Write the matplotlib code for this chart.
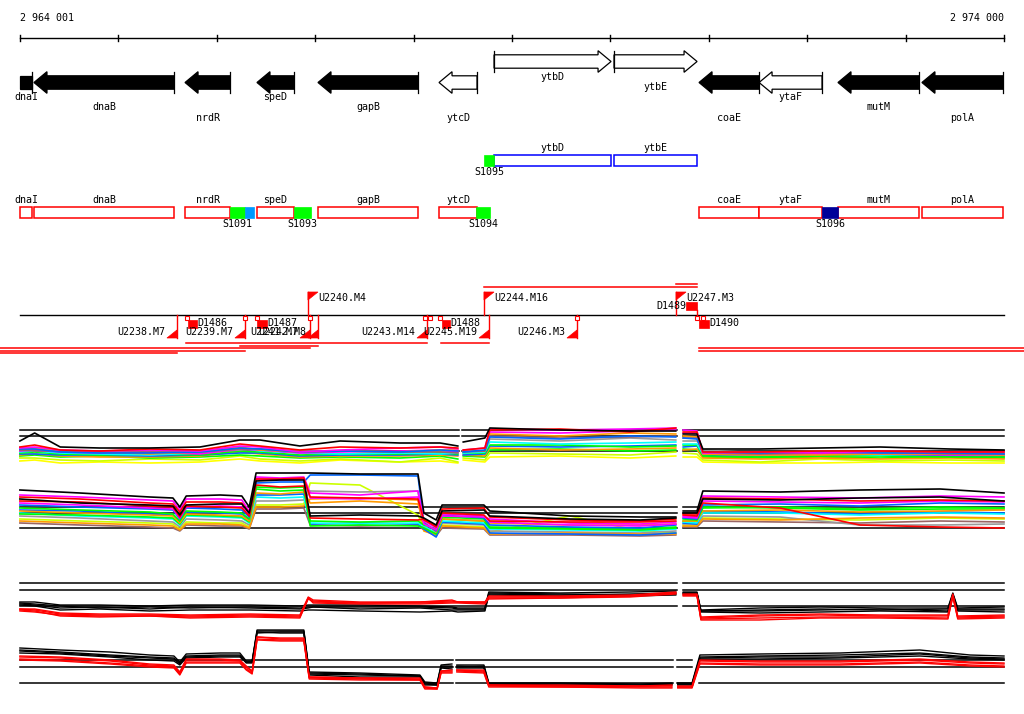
import numpy as np
import matplotlib
matplotlib.use("Agg")
import matplotlib.pyplot as plt
from matplotlib.patches import Polygon, Rectangle

W, H = 1024, 714
START, END = 2964001, 2974000
BPPX = (END - START) / 984.0
X0, X1 = START - 20 * BPPX, END + 20 * BPPX

# genes (top track)
gene_names = ["dnaI", "dnaB", "nrdR", "speD", "gapB", "ytcD", "ytbD", "ytbE", "coaE", "ytaF", "mutM", "polA"]
gene_start = [2964001, 2964143, 2965678, 2966409, 2967029, 2968259, 2968818, 2970037, 2970901, 2971511, 2972313, 2973166]
gene_end = [2964123, 2965566, 2966135, 2966785, 2968045, 2968645, 2970007, 2970881, 2971511, 2972151, 2973136, 2973990]
gene_strand = [-1, -1, -1, -1, -1, -1, 1, 1, -1, -1, -1, -1]
gene_filled = [1, 1, 1, 1, 1, 0, 0, 0, 1, 0, 1, 1]
gene_row = [0, 1, 2, 0, 1, 2, 0, 1, 2, 0, 1, 2]

# spots on the gene boxes
spot_names = ["S1095", "S1091", "", "S1093", "S1094", "S1096"]
spot_start = [2968716, 2966135, 2966287, 2966785, 2968635, 2972151]
spot_end = [2968818, 2966287, 2966378, 2966958, 2968777, 2972313]
spot_strand = [1, -1, -1, -1, -1, -1]
spot_color = ["#00ff00", "#00ff00", "#0099ff", "#00ff00", "#00ff00", "#000099"]

# transcription up-shifts (flags) and down-shifts
up_names = ["U2238.M7", "U2239.M7", "U2240.M4", "U2241.M7", "U2242.M8", "U2243.M14",
            "U2244.M16", "U2245.M19", "U2246.M3", "U2247.M3"]
up_pos = [2965596, 2966287, 2966927, 2966948, 2967029, 2968137, 2968716, 2968767, 2969661, 2970667]
up_strand = [-1, -1, 1, -1, -1, -1, 1, -1, -1, 1]
down_names = ["D1486", "D1487", "D1488", "D1489", "D1490"]
down_start = [2965708, 2966409, 2968289, 2970769, 2970901]
down_end = [2965800, 2966511, 2968370, 2970881, 2971003]
down_strand = [-1, -1, -1, 1, -1]
marker_pos = [2965698, 2966287, 2966409, 2966948, 2968117, 2968168, 2968269, 2969661, 2970881, 2970941]
# transcripts: start, end (None = beyond view), level
tr_start = [2968716, 2970667, 2965690, 2966235, 2968280, None, None, None, 2970901, 2970901]
tr_end = [2970881, 2970881, 2968137, 2967029, 2968767, 2966948, 2966287, 2965596, None, None]
tr_level = [287, 284, 343, 346, 343, 348, 351, 353, 348, 351]

# expression panel 1, top block
p1a_x = [2964000, 2964150, 2964410, 2964810, 2965320, 2965830, 2966235, 2966440, 2966845, 2967255,
         2967860, 2968270, 2968450, 2968505, 2968725, 2968775, 2969490, 2970200, 2970665, 2970740,
         2970880, 2970940, 2971520, 2972130, 2972740, 2973450, 2974000]
p1a_gaps = [(2968460, 2968495), (2970675, 2970735)]
p1a_black = [-5, 3, -11, -12, -12, -11, -4, -4, -10, -5, -7, -7, -10, -6, -2, 8, 6, 5, 5, 2, 2, -13, -13, -12, -11, -13, -14]
p1a_red = [-11, -9, -14, -15, -13, -14, -8, -10, -14, -11, -12, -11, -12, -14, -12, 6, 7, 4, 8, 4, 4, -16, -16, -15, -15, -16, -16]
p1a_magenta = [-12, -11, -14, -15, -14, -15, -10, -11, -16, -14, -12, -11, -13, -14, -12, 7, 6, 7, 8, 6, 5, -17, -16, -17, -15, -16, -16]
p1a_magenta2 = [-15, -14, -16, -17, -16, -18, -13, -14, -17, -16, -15, -14, -16, -15, -15, 4, 3, 5, 6, 3, 3, -18, -19, -18, -18, -19, -19]
p1a_brown = [-14, -15, -15, -16, -16, -16, -13, -13, -16, -15, -16, -16, -17, -16, -15, 0, -2, -1, 0, -2, -2, -17, -18, -17, -16, -18, -18]
p1a_orange = [-13, -12, -15, -16, -18, -16, -11, -14, -16, -15, -16, -14, -14, -15, -15, 2, 0, 3, 2, 0, -1, -18, -19, -19, -18, -18, -19]
p1a_orange2 = [-19, -18, -20, -21, -21, -20, -16, -18, -21, -20, -20, -19, -20, -19, -20, -12, -14, -13, -12, -14, -13, -22, -23, -22, -23, -22, -23]
p1a_gray = [-14, -13, -15, -16, -15, -17, -14, -13, -15, -15, -16, -15, -16, -15, -15, -3, -5, -2, -4, -5, -5, -14, -17, -15, -16, -18, -18]
p1a_cyan = [-16, -15, -17, -18, -19, -17, -12, -15, -17, -18, -17, -18, -17, -17, -16, -6, -8, -7, -6, -8, -8, -18, -19, -18, -19, -18, -19]
p1a_blue = [-18, -18, -19, -19, -20, -19, -17, -17, -20, -19, -19, -18, -19, -19, -18, -10, -11, -10, -9, -11, -10, -19, -20, -19, -19, -20, -20]
p1a_blue2 = [-13, -13, -16, -17, -17, -16, -12, -13, -16, -15, -16, -14, -15, -16, -14, -1, -3, 0, -1, -2, -3, -16, -17, -16, -17, -17, -18]
p1a_green = [-20, -19, -21, -20, -22, -21, -19, -20, -22, -21, -22, -20, -23, -20, -21, -14, -13, -15, -14, -13, -14, -21, -22, -21, -22, -21, -22]
p1a_green2 = [-17, -16, -18, -19, -18, -19, -15, -16, -19, -18, -18, -17, -18, -17, -17, -9, -9, -11, -10, -9, -9, -20, -21, -20, -20, -21, -21]
p1a_ygreen = [-22, -22, -24, -25, -23, -24, -20, -23, -25, -23, -26, -22, -26, -22, -24, -17, -18, -19, -16, -17, -18, -24, -26, -23, -25, -24, -25]
p1a_yellow = [-25, -24, -27, -26, -27, -26, -23, -25, -27, -24, -26, -25, -27, -24, -26, -21, -20, -22, -20, -21, -21, -26, -27, -27, -26, -27, -27]

# expression panel 1, bottom block
p1b_x = [2964000, 2964610, 2965320, 2965555, 2965625, 2965690, 2966035, 2966255, 2966330, 2966400,
         2966645, 2966885, 2966950, 2967455, 2968045, 2968105, 2968230, 2968290, 2968715, 2968775,
         2969590, 2970300, 2970665, 2970740, 2970880, 2970940, 2971725, 2972535, 2973350, 2974000]
p1b_gaps = [(2970675, 2970735)]
p1b_black = [23, 20, 16, 15, 6, 17, 18, 17, 6, 40, 40, 40, 40, 39, 39, 0, -7, 8, 8, 2, -3, -4, -4, 2, 2, 22, 21, 23, 24, 20]
p1b_black2 = [14, 10, 8, 7, -2, 8, 9, 9, 0, 32, 33, 33, -3, -2, -3, -5, -12, 2, 3, -3, -6, -7, -5, 0, 0, 14, 13, 15, 16, 12]
p1b_red = [12, 11, 7, 6, -4, 7, 6, 5, -3, 28, 26, 27, -5, -6, -7, -6, -14, 0, -2, -8, -9, -9, -8, -2, -3, 10, 5, -12, -14, -15]
p1b_red2 = [16, 14, 10, 9, 1, 11, 11, 10, 0, 34, 34, 35, 16, 15, 14, -7, -13, 4, 5, -4, -7, -8, -6, -1, -1, 15, 14, 12, 13, 12]
p1b_magenta = [18, 16, 13, 12, 3, 14, 14, 13, 2, 36, 35, 36, 20, 18, 22, -8, -15, -3, -4, -6, -10, -11, -9, -3, -4, 17, 16, 15, 17, 16]
p1b_magenta2 = [10, 8, 5, 4, -5, 6, 7, 6, -2, 34, 33, 34, 15, 14, 16, -11, -17, -1, -3, -9, -12, -13, -11, -4, -5, 12, 11, 10, 12, 11]
p1b_blue = [8, 6, 4, 3, -6, 5, 4, 3, -4, 30, 31, 31, 38, 38, 37, -10, -18, -2, -5, -12, -14, -15, -12, -5, -6, 8, 9, 7, 10, 9]
p1b_blue2 = [3, 2, -1, -2, -9, 1, 0, -1, -7, 18, 18, 19, -11, -10, -11, -16, -24, -9, -11, -20, -21, -22, -20, -10, -11, 2, 1, -1, 1, 0]
p1b_green = [5, 3, 1, -1, -8, 2, 1, 0, -6, 24, 22, 23, -8, -9, -8, -12, -16, -4, -6, -14, -15, -16, -14, -6, -7, 5, 6, 4, 6, 5]
p1b_green2 = [-1, -2, -4, -5, -11, -2, -3, -4, -9, 26, 25, 26, -13, -12, -13, -15, -21, -6, -8, -15, -16, -17, -15, -8, -8, 6, 5, 3, 4, 4]
p1b_orange = [2, 0, -2, -3, -10, -1, -2, -3, -8, 20, 19, 21, 10, 12, 9, -9, -19, -6, -8, -10, -12, -12, -11, -8, -8, 2, 3, 1, 2, 3]
p1b_orange2 = [-8, -10, -12, -13, -17, -11, -11, -12, -15, 6, 6, 7, 14, 15, 13, -18, -22, -13, -15, -21, -20, -21, -21, -13, -13, -6, -7, -5, -4, -5]
p1b_cyan = [0, -3, -5, -6, -12, -3, -4, -5, -10, 16, 15, 16, -10, -11, -10, -13, -20, -8, -10, -16, -17, -18, -16, -9, -10, 0, 0, -2, 0, -1]
p1b_gray = [-3, -5, -8, -9, -14, -6, -7, -8, -12, 12, 12, 13, 22, 21, 22, -14, -21, -10, -12, -18, -19, -20, -18, -11, -11, -3, -4, -12, -12, -11]
p1b_ygreen = [-6, -8, -10, -11, -16, -9, -10, -10, -14, 8, 8, 9, 30, 28, -2, -15, -22, -12, -14, -19, -3, -18, -20, -12, -12, -5, -6, -7, -5, -6]
p1b_brown = [-10, -12, -14, -15, -18, -12, -13, -13, -16, 4, 4, 5, -12, -13, -12, -17, -23, -15, -16, -22, -22, -23, -22, -14, -14, -8, -9, -10, -8, -9]

# expression panel 2, top block
p2a_x = [2964000, 2964150, 2964410, 2964810, 2965320, 2965730, 2966340, 2966845, 2966930, 2966980,
         2967455, 2968065, 2968390, 2968450, 2968725, 2968765, 2969490, 2970200, 2970665, 2970740,
         2970880, 2970920, 2971520, 2972130, 2972740, 2973430, 2973480, 2973530, 2974000]
p2a_gaps = [(2970675, 2970735)]
p2a_black1 = [-12, -12, -15, -15, -16, -15, -15, -16, -15, -15, -15, -16, -17, -18, -18, -2, -3, -2, -1, -2, -2, -20, -18, -17, -18, -18, -3, -18, -17]
p2a_black2 = [-14, -15, -18, -17, -19, -17, -18, -19, -18, -17, -19, -18, -20, -20, -20, -4, -5, -4, -3, -3, -3, -21, -21, -20, -19, -21, -5, -20, -20]
p2a_black3 = [-15, -16, -20, -19, -21, -20, -20, -21, -20, -20, -21, -22, -21, -22, -21, -5, -6, -6, -5, -4, -4, -22, -23, -22, -21, -22, -6, -21, -22]
p2a_black4 = [-13, -14, -16, -18, -17, -18, -17, -18, -17, -17, -17, -17, -18, -19, -19, -3, -4, -5, -4, -3, -3, -21, -20, -19, -20, -19, -4, -19, -19]
p2a_red1 = [-19, -19, -23, -24, -24, -25, -24, -25, -7, -10, -12, -12, -10, -12, -12, -6, -6, -5, -2, -4, -4, -27, -25, -24, -25, -25, -4, -26, -25]
p2a_red2 = [-19, -20, -24, -25, -25, -26, -25, -26, -8, -12, -13, -13, -12, -12, -13, -7, -7, -6, -3, -5, -5, -28, -26, -25, -26, -26, -5, -27, -26]
p2a_red3 = [-20, -21, -26, -27, -26, -28, -27, -28, -8, -13, -14, -14, -13, -13, -14, -8, -8, -7, -4, -5, -5, -30, -30, -28, -28, -29, -6, -29, -28]
p2a_red4 = [-21, -22, -25, -26, -26, -27, -26, -27, -9, -11, -13, -12, -11, -12, -12, -9, -8, -6, -3, -6, -6, -29, -28, -27, -27, -28, -7, -28, -27]

# expression panel 2, bottom block
p2b_x = [2964000, 2964410, 2964915, 2965320, 2965565, 2965625, 2965690, 2966035, 2966235, 2966300,
         2966360, 2966410, 2966645, 2966885, 2966940, 2967455, 2968065, 2968115, 2968240, 2968280,
         2968390, 2968440, 2968715, 2968765, 2969490, 2970300, 2970625, 2970685, 2970830, 2970910,
         2971520, 2972335, 2973145, 2973655, 2974000]
p2b_gaps = [(2968400, 2968430), (2970640, 2970680)]
p2b_black1 = [19, 17, 15, 12, 11, 5, 13, 14, 14, 6, 6, 37, 37, 37, -5, -6, -8, -15, -16, 2, 3, 2, 2, -16, -16, -17, -16, -16, -16, 12, 13, 14, 17, 12, 11]
p2b_black2 = [16, 14, 11, 9, 8, 3, 10, 11, 11, 4, 4, 34, 35, 35, -7, -8, -9, -17, -18, 0, 0, 1, 0, -17, -17, -18, -17, -17, -17, 9, 10, 10, 13, 9, 8]
p2b_black3 = [14, 13, 10, 7, 6, 2, 9, 10, 10, 5, 5, 35, 34, 34, -8, -10, -10, -18, -18, -1, -2, -1, -1, -18, -19, -19, -18, -18, -18, 8, 8, 9, 11, 8, 7]
p2b_black4 = [17, 15, 12, 10, 9, 4, 11, 12, 12, 5, 5, 36, 36, 36, -6, -7, -9, -16, -17, 1, 1, 0, 1, -17, -18, -18, -17, -17, -17, 10, 11, 12, 14, 10, 9]
p2b_red1 = [10, 9, 6, 2, 1, -6, 7, 7, 6, 0, -5, 30, 28, 28, -10, -11, -12, -20, -21, -4, -4, -3, -4, -18, -19, -19, -19, -20, -20, 6, 5, 5, 7, 4, 3]
p2b_red2 = [8, 7, 4, 1, 0, -7, 5, 5, 5, -2, -6, 28, 27, 27, -11, -12, -13, -21, -22, -5, -5, -4, -5, -19, -20, -20, -20, -20, -20, 4, 3, 3, 5, 2, 1]
p2b_red3 = [11, 10, 7, 3, 2, -5, 8, 8, 7, 1, -4, 30, 29, 29, -10, -11, -11, -20, -21, -4, -3, -3, -3, -18, -18, -19, -18, -19, -19, 7, 6, 6, 8, 5, 4]
p2b_red4 = [7, 6, 3, 0, -1, -8, 4, 4, 4, -3, -7, 27, 26, 26, -12, -13, -13, -22, -22, -6, -6, -5, -6, -20, -20, -21, -21, -21, -21, 3, 2, 2, 4, 1, 0]

ref_p1 = [6, 0, -15]
ref_p2 = [7, 0, -16]

MONO = dict(family="DejaVu Sans Mono", fontsize=7.2)
RED = "#ff0000"

fig = plt.figure(figsize=(W / 100, H / 100), dpi=100)
ax = fig.add_axes([0, 0, 1, 1])
ax.set_xlim(X0, X1)
ax.set_ylim(H, 0)
ax.axis("off")

# ruler
ax.plot([START, END], [38, 38], color="black", lw=1)
for t in np.arange(START, END + 2, 1000):
    ax.plot([t, t], [35, 41], color="black", lw=1)
ax.text(START, 18, "2 964 001", ha="left", va="center", **MONO)
ax.text(END, 18, "2 974 000", ha="right", va="center", **MONO)

# gene arrows
HEAD = 13 * BPPX
BH, HH = 6.7, 10.8
for name, s, e, st, f, r in zip(gene_names, gene_start, gene_end, gene_strand, gene_filled, gene_row):
    cy = 82.5 if st < 0 else 61.5
    if e - s <= HEAD:
        pts = [(s, cy - BH), (e, cy - BH), (e, cy + BH), (s, cy + BH)]
    elif st < 0:
        pts = [(s, cy), (s + HEAD, cy - HH), (s + HEAD, cy - BH), (e, cy - BH),
               (e, cy + BH), (s + HEAD, cy + BH), (s + HEAD, cy + HH)]
    else:
        pts = [(e, cy), (e - HEAD, cy - HH), (e - HEAD, cy - BH), (s, cy - BH),
               (s, cy + BH), (e - HEAD, cy + BH), (e - HEAD, cy + HH)]
    ax.add_patch(Polygon(pts, closed=True, fc="black" if f else "white", ec="black", lw=0.9))
    tx = e if st < 0 else s
    ax.plot([tx, tx], [cy - HH, cy + HH], color="black", lw=0.9)
    ly = [97, 107.5, 118][r] if st < 0 else [77, 87][r]
    ax.text((s + e) / 2, ly, name, ha="center", va="center", **MONO)

    # gene boxes (strand tracks)
    by = 155 if st > 0 else 207
    ax.add_patch(Rectangle((s, by), e - s, 10.5, fc="white", ec="#0000ff" if st > 0 else RED, lw=1.1))
    ax.text((s + e) / 2, by - 7, name, ha="center", va="center", **MONO)

for name, s, e, st, c in zip(spot_names, spot_start, spot_end, spot_strand, spot_color):
    by = 155 if st > 0 else 207
    ax.add_patch(Rectangle((s, by), e - s, 10.5, fc=c, ec=c, lw=0.5, zorder=3))
    if name:
        ax.text((s + e) / 2, by + 17, name, ha="center", va="center", **MONO)

# transcription track
LINE_Y = 315
TRI = 10 * BPPX
ax.plot([START, END], [LINE_Y, LINE_Y], color="black", lw=1)
for name, x, st in zip(up_names, up_pos, up_strand):
    if st > 0:
        ax.plot([x, x], [LINE_Y, 292], color=RED, lw=1)
        ax.add_patch(Polygon([(x, 292), (x + TRI, 292), (x, 300)], closed=True, fc=RED, ec=RED, lw=0.5))
        ax.text(x + TRI, 298, name, ha="left", va="center", **MONO)
    else:
        ax.plot([x, x], [LINE_Y, 338], color=RED, lw=1)
        ax.add_patch(Polygon([(x, 338), (x - TRI, 338), (x, 330)], closed=True, fc=RED, ec=RED, lw=0.5))
        ax.text(x - TRI - 1.5 * BPPX, 332, name, ha="right", va="center", **MONO)
for name, s, e, st in zip(down_names, down_start, down_end, down_strand):
    if st > 0:
        ax.add_patch(Rectangle((s, 302), e - s, 8, fc=RED, ec=RED, lw=0.5))
        ax.plot([e, e], [310, LINE_Y], color=RED, lw=1)
        ax.text(s, 306, name, ha="right", va="center", **MONO)
    else:
        ax.add_patch(Rectangle((s, 320), e - s, 8, fc=RED, ec=RED, lw=0.5))
        ax.text(e, 323, name, ha="left", va="center", **MONO)
ax.plot(marker_pos, [317.5] * len(marker_pos), ls="none", marker="s", ms=3.2,
        mfc="white", mec=RED, mew=0.8)
for s, e, lev in zip(tr_start, tr_end, tr_level):
    ax.plot([X0 if s is None else s, X1 if e is None else e], [lev, lev], color=RED, lw=1.1)


def block(top, bottom, center):
    b = fig.add_axes([0, 1 - bottom / H, 1, (bottom - top) / H])
    b.set_xlim(X0, X1)
    b.set_ylim(center - bottom, center - top)
    b.axis("off")
    b.patch.set_alpha(0)
    return b


def draw_refs(b, refs, gaps):
    edges = [START] + [v for g in gaps for v in g] + [END]
    for r in refs:
        for a, c in zip(edges[0::2], edges[1::2]):
            b.plot([a, c], [r, r], color="black", lw=1.1, zorder=1)


def draw_series(b, xs, ys, gaps, color, lw=1.0, z=2):
    x = np.asarray(xs, float)
    y = np.asarray(ys, float)
    for a, c in gaps:
        m = (a + c) / 2
        i = np.searchsorted(x, m)
        x = np.insert(x, i, m)
        y = np.insert(y, i, np.nan)
    b.plot(x, y, color=color, lw=lw, zorder=z)


b1 = block(415, 472, 436)
draw_refs(b1, ref_p1, p1a_gaps)
for ys, c in [(p1a_yellow, "#ffff00"), (p1a_ygreen, "#ccff00"), (p1a_green, "#00ff00"),
              (p1a_orange2, "#ff9900"), (p1a_blue, "#0066ff"), (p1a_green2, "#00ff00"),
              (p1a_cyan, "#00ffff"), (p1a_gray, "#999999"), (p1a_magenta2, "#ff00ff"),
              (p1a_orange, "#ff9900"), (p1a_brown, "#996666"), (p1a_blue2, "#0066ff"),
              (p1a_magenta, "#ff00ff"), (p1a_red, RED), (p1a_black, "black")]:
    draw_series(b1, p1a_x, ys, p1a_gaps, c, lw=1.2)

b2 = block(466, 542, 513)
draw_refs(b2, ref_p1, p1b_gaps)
for ys, c in [(p1b_brown, "#996666"), (p1b_ygreen, "#ccff00"), (p1b_gray, "#999999"),
              (p1b_orange2, "#ff9900"), (p1b_blue2, "#0066ff"), (p1b_cyan, "#00ffff"),
              (p1b_green2, "#00ff00"), (p1b_orange, "#ff9900"), (p1b_green, "#00ff00"),
              (p1b_blue, "#0066ff"), (p1b_magenta2, "#ff00ff"), (p1b_magenta, "#ff00ff"),
              (p1b_red2, RED), (p1b_red, RED), (p1b_black2, "black"), (p1b_black, "black")]:
    draw_series(b2, p1b_x, ys, p1b_gaps, c, lw=1.2)

b3 = block(575, 628, 590)
draw_refs(b3, ref_p2, p2a_gaps)
for ys in [p2a_black1, p2a_black2, p2a_black3, p2a_black4]:
    draw_series(b3, p2a_x, ys, p2a_gaps, "black")
for ys in [p2a_red1, p2a_red2, p2a_red3, p2a_red4]:
    draw_series(b3, p2a_x, ys, p2a_gaps, RED)

b4 = block(622, 700, 667)
draw_refs(b4, ref_p2, p2b_gaps + [(2970830, 2970900)])
for ys in [p2b_black1, p2b_black2, p2b_black3, p2b_black4]:
    draw_series(b4, p2b_x, ys, p2b_gaps, "black")
for ys in [p2b_red1, p2b_red2, p2b_red3, p2b_red4]:
    draw_series(b4, p2b_x, ys, p2b_gaps, RED)

fig.savefig("out.png", dpi=100, facecolor="white")
